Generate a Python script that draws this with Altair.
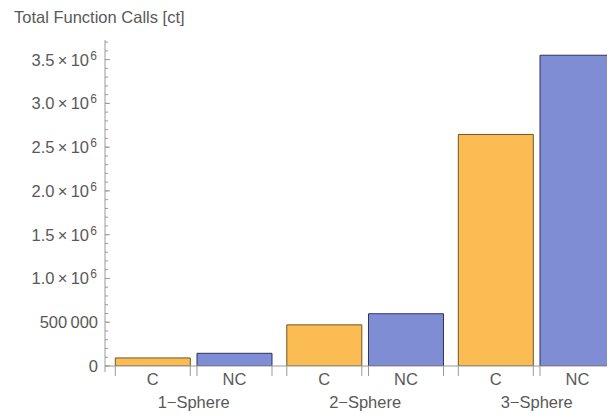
import altair as alt
import pandas as pd

# ---------------- data ----------------
groups = ["1\u2212Sphere", "2\u2212Sphere", "3\u2212Sphere"]
types = ["C", "NC"]
c_values = [92000, 470000, 2645000]
nc_values = [145000, 597000, 3550000]

plain_tick_values = [0, 500000]
plain_tick_labels = ["0", "500\u2009000"]
sci_tick_values = [1000000, 1500000, 2000000, 2500000, 3000000, 3500000]
sci_tick_labels = ["1.0\u2009\u00d7\u200910", "1.5\u2009\u00d7\u200910", "2.0\u2009\u00d7\u200910",
                   "2.5\u2009\u00d7\u200910", "3.0\u2009\u00d7\u200910", "3.5\u2009\u00d7\u200910"]
sci_tick_exponents = ["6", "6", "6", "6", "6", "6"]
minor_tick_values = list(range(0, 3700001, 100000))
title_text = "Total Function Calls [ct]"

# ---------------- style ----------------
FONT = "Liberation Sans"
TXT = "#595959"
AX = "#9a9a9a"
W, H = 502, 326          # plot area (axis at x=105, top at y=40)
RANGE_W = 510            # band range runs a little past the right edge (last bar clipped)
YMAX = 3.724e6
FS = 16.5
PI_GROUP = 0.0863
PI_BAR = 0.082

rows = []
for g, c, nc in zip(groups, c_values, nc_values):
    rows.append({"group": g, "type": "C", "value": c})
    rows.append({"group": g, "type": "NC", "value": nc})
bars_df = pd.DataFrame(rows)
groups_df = pd.DataFrame({"group": groups})

x_scale = alt.Scale(domain=groups, range=[0, RANGE_W], paddingInner=PI_GROUP, paddingOuter=0.03, align=1)
xo_scale = alt.Scale(domain=types, paddingInner=PI_BAR, paddingOuter=0)
y_scale = alt.Scale(domain=[0, YMAX], nice=False, zero=True)

bars = alt.Chart(bars_df).mark_bar(clip=True, strokeWidth=1).encode(
    x=alt.X("group:N", scale=x_scale, axis=None),
    xOffset=alt.XOffset("type:N", scale=xo_scale),
    y=alt.Y("value:Q", scale=y_scale, axis=None),
    fill=alt.Fill("type:N", scale=alt.Scale(domain=types, range=["#FBBD53", "#7F8ED4"]), legend=None),
    stroke=alt.Stroke("type:N", scale=alt.Scale(domain=types, range=["#6E5428", "#30345A"]), legend=None),
)

# separator ticks below the baseline at every bar edge (fractions of the group band)
edge_positions = [0.0, (1 - PI_BAR) / (2 - PI_BAR), 1 / (2 - PI_BAR), 1.0]
edge_layers = [
    alt.Chart(groups_df).mark_rule(color=AX, strokeWidth=1).encode(
        x=alt.X("group:N", scale=x_scale, axis=None, bandPosition=bp),
        y=alt.value(H), y2=alt.value(H + 10),
    )
    for bp in edge_positions
]

base_line = alt.Chart(pd.DataFrame({"k": [0]})).mark_rule(color=AX, strokeWidth=1.2).encode(
    x=alt.value(0), x2=alt.value(W), y=alt.value(H)
)
y_line = alt.Chart(pd.DataFrame({"k": [0]})).mark_rule(color=AX, strokeWidth=1).encode(
    x=alt.value(0), y=alt.value(0), y2=alt.value(H + 6)
)

major_df = pd.DataFrame({"v": plain_tick_values + sci_tick_values})
major_ticks = alt.Chart(major_df).mark_rule(color=AX, strokeWidth=1).encode(
    y=alt.Y("v:Q", scale=y_scale, axis=None), x=alt.value(0), x2=alt.value(5)
)
minor_ticks = alt.Chart(pd.DataFrame({"v": minor_tick_values})).mark_rule(color=AX, strokeWidth=1).encode(
    y=alt.Y("v:Q", scale=y_scale, axis=None), x=alt.value(0), x2=alt.value(3)
)

plain_labels = alt.Chart(pd.DataFrame({"v": plain_tick_values, "t": plain_tick_labels})).mark_text(
    align="right", baseline="alphabetic", dy=5.5, font=FONT, fontSize=FS, color=TXT
).encode(y=alt.Y("v:Q", scale=y_scale, axis=None), x=alt.value(-7), text="t:N")

sci_df = pd.DataFrame({"v": sci_tick_values, "t": sci_tick_labels, "e": sci_tick_exponents})
sci_base = alt.Chart(sci_df).mark_text(
    align="right", baseline="alphabetic", dy=6, font=FONT, fontSize=FS, color=TXT
).encode(y=alt.Y("v:Q", scale=y_scale, axis=None), x=alt.value(-16), text="t:N")
sci_exp = alt.Chart(sci_df).mark_text(
    align="right", baseline="alphabetic", dy=0, font=FONT, fontSize=12, color=TXT
).encode(y=alt.Y("v:Q", scale=y_scale, axis=None), x=alt.value(-8), text="e:N")

type_labels = alt.Chart(bars_df).mark_text(
    baseline="alphabetic", font=FONT, fontSize=FS, color=TXT
).encode(
    x=alt.X("group:N", scale=x_scale, axis=None),
    xOffset=alt.XOffset("type:N", scale=xo_scale),
    y=alt.value(H + 19),
    text="type:N",
)
group_labels = alt.Chart(groups_df).mark_text(
    baseline="alphabetic", font=FONT, fontSize=FS, color=TXT
).encode(
    x=alt.X("group:N", scale=x_scale, axis=None),
    y=alt.value(H + 42),
    text="group:N",
)

title = alt.Chart(pd.DataFrame({"t": [title_text]})).mark_text(
    align="left", baseline="alphabetic", font=FONT, fontSize=FS, color=TXT
).encode(x=alt.value(-91), y=alt.value(-17), text="t:N")

chart = alt.layer(
    bars, base_line, *edge_layers, y_line, minor_ticks, major_ticks,
    plain_labels, sci_base, sci_exp, type_labels, group_labels, title
).properties(
    width=W, height=H,
    padding={"left": 97, "top": 32, "right": 0, "bottom": 46},
    autosize=alt.AutoSizeParams(type="none"),
).configure_view(stroke=None)

chart.save("out.html", embed_options={"renderer": "svg", "actions": False})
